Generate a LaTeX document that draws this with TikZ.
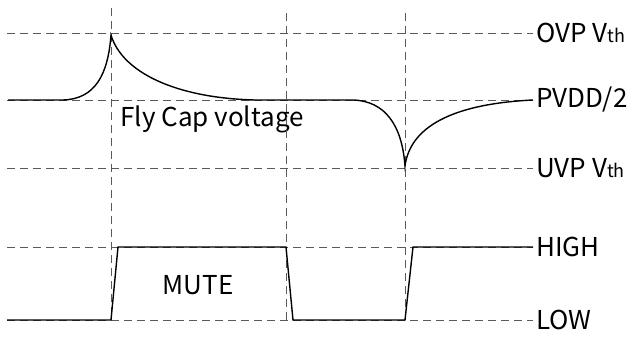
\documentclass[tikz,border=0pt]{standalone}
\usepackage{fontspec}
\setmainfont{Noto Sans CJK SC}
\usetikzlibrary{positioning}
\newcommand{\vth}{{\fontsize{18}{21}\selectfont th}}
\tikzset{
  guide/.style={draw=black!65, dash pattern=on 8pt off 5pt, line width=0.9pt},
  wave/.style={draw=black, line width=1.4pt},
  level/.style={anchor=west, inner sep=3pt, font=\fontsize{26}{30}\selectfont},
  tag/.style={inner sep=0pt, font=\fontsize{26}{30}\selectfont}
}

\begin{document}
\begin{tikzpicture}[x=1pt, y=-1pt]
  \useasboundingbox (0,0) rectangle (633,338);
  % level names on the right
  \node[level] (ovp) at (533,33) {OVP V\vth};
  \node[level] (pvdd) at (533,100) {PVDD/2};
  \node[level] (uvp) at (533,168) {UVP V\vth};
  \node[level] (high) at (533,247) {HIGH};
  \node[level] (low) at (533,320) {LOW};
  \node[tag] (fly) at (212,119) {Fly Cap voltage};
  \node[tag] (mute) at (198,285) {MUTE};
  \coordinate (lft) at (7,0);
  % dashed guides
  \foreach \lv in {ovp,pvdd,uvp,high,low}
    \draw[guide] (lft |- \lv.west) -- (\lv.west);
  \foreach \tx/\ty in {111/8,286/13,405/13}
    \draw[guide] (\tx,\ty) -- (\tx,320);
  % fly cap voltage
  \draw[wave] (8,100) -- (63,100) .. controls (95,99) and (108,75) .. (111,35)
    .. controls (122,72) and (175,98) .. (255,100) -- (353,100)
    .. controls (385,101) and (402,125) .. (405,166)
    .. controls (410,128) and (450,104) .. (pvdd.west);
  % mute signal
  \draw[wave] (lft |- low.west) -- (111,320) -- (118,247) -- (286,247) -- (293,320)
    -- (405,320) -- (413,247) -- (high.west);
\end{tikzpicture}
\end{document}
